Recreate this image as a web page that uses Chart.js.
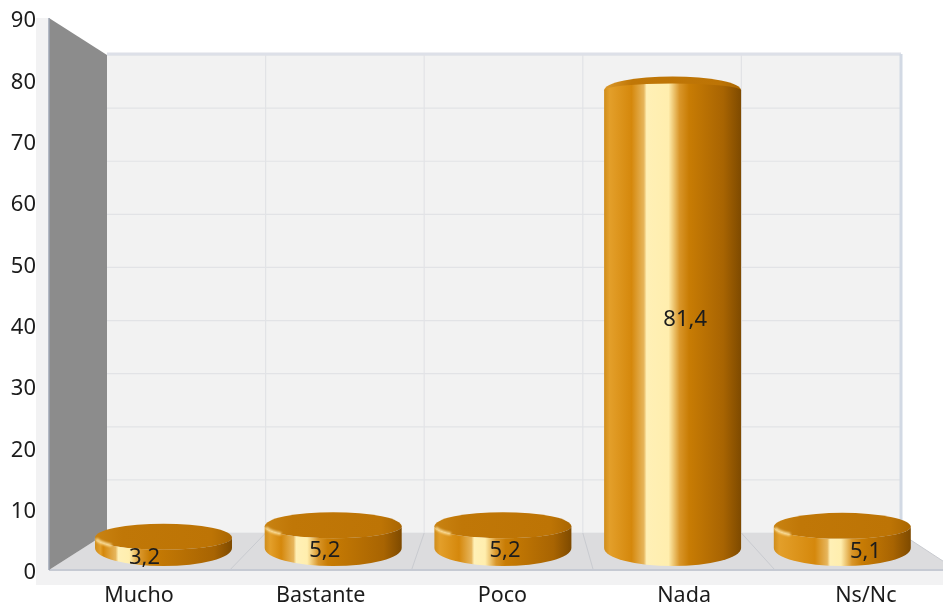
<!DOCTYPE html>
<html>
<head>
<meta charset="utf-8">
<script src="https://cdn.jsdelivr.net/npm/chart.js@4/dist/chart.umd.min.js"></script>
<style>
  html, body { margin: 0; background: #fff; }
  canvas { display: block; }
</style>
</head>
<body>
<canvas id="chart" width="943" height="610"></canvas>
<script>
const categories = ['Mucho', 'Bastante', 'Poco', 'Nada', 'Ns/Nc'];
const values = [3.2, 5.2, 5.2, 81.4, 5.1];
const valueLabels = ['3,2', '5,2', '5,2', '81,4', '5,1'];
const yTicks = [0, 10, 20, 30, 40, 50, 60, 70, 80, 90];

const FONT = '"Noto Sans", sans-serif';
const AREA = { left: 49, right: 943, top: 18, bottom: 570 };

// the fake 3d has three planes, each one gets its own hidden scale
function xRange(zero, step) {
  return { min: (AREA.left - zero) / step, max: (AREA.right - zero) / step };
}
function yRange(zero, step) {
  return { min: (zero - AREA.bottom) / step, max: (zero - AREA.top) / step };
}
function hiddenX(zero, step) {
  return { type: 'linear', axis: 'x', display: false, offset: false, ...xRange(zero, step) };
}
function hiddenY(zero, step) {
  return { type: 'linear', axis: 'y', display: false, ...yRange(zero, step) };
}

const wallsPlugin = {
  id: 'walls',
  beforeDatasetsDraw(chart) {
    const ctx = chart.ctx;
    const s = chart.scales;
    const backL = s.xBack.getPixelForValue(0);
    const backR = s.xBack.getPixelForValue(categories.length);
    const backT = s.yBack.getPixelForValue(90);
    const backB = s.yBack.getPixelForValue(0);
    const frontL = AREA.left;
    const frontT = s.y.getPixelForValue(90);
    const frontB = s.y.getPixelForValue(0);

    ctx.save();
    // light strip behind the axis and under the floor
    ctx.fillStyle = '#f2f2f3';
    ctx.fillRect(36, frontT, frontL - 36, frontB - frontT + 15);
    ctx.fillRect(frontL, frontB, 943 - frontL, 15);

    // back wall
    ctx.fillStyle = '#f2f2f2';
    ctx.fillRect(backL, backT, backR - backL, backB - backT);
    ctx.strokeStyle = '#e2e3e6';
    ctx.lineWidth = 1.2;
    yTicks.forEach(v => {
      const py = s.yBack.getPixelForValue(v);
      ctx.beginPath();
      ctx.moveTo(backL, py);
      ctx.lineTo(backR, py);
      ctx.stroke();
    });
    for (let k = 1; k < categories.length; k++) {
      const px = s.xBack.getPixelForValue(k);
      ctx.beginPath();
      ctx.moveTo(px, backT);
      ctx.lineTo(px, backB);
      ctx.stroke();
    }
    ctx.strokeStyle = '#dde0e8';
    ctx.lineWidth = 3;
    ctx.beginPath();
    ctx.moveTo(backL, backT - 1);
    ctx.lineTo(backR + 1, backT - 1);
    ctx.stroke();
    ctx.strokeStyle = '#d2d9e4';
    ctx.beginPath();
    ctx.moveTo(backR + 1, backT - 1);
    ctx.lineTo(backR + 1, backB);
    ctx.stroke();

    // floor, front edge runs past the canvas on the right
    const frontR = s.x.getPixelForValue(categories.length - 0.5);
    ctx.fillStyle = '#dcdcde';
    ctx.beginPath();
    ctx.moveTo(backL, backB);
    ctx.lineTo(backR, backB);
    ctx.lineTo(frontR, frontB);
    ctx.lineTo(frontL, frontB);
    ctx.closePath();
    ctx.fill();
    ctx.strokeStyle = '#c9cbd0';
    ctx.lineWidth = 1;
    for (let k = 1; k <= categories.length; k++) {
      ctx.beginPath();
      ctx.moveTo(s.xBack.getPixelForValue(k), backB);
      ctx.lineTo(s.x.getPixelForValue(k - 0.5), frontB);
      ctx.stroke();
    }
    ctx.strokeStyle = '#c6cad3';
    ctx.lineWidth = 2;
    ctx.beginPath();
    ctx.moveTo(frontL, frontB);
    ctx.lineTo(943, frontB);
    ctx.stroke();

    // left wall
    ctx.fillStyle = '#8c8c8c';
    ctx.beginPath();
    ctx.moveTo(frontL, frontT);
    ctx.lineTo(backL, backT);
    ctx.lineTo(backL, backB);
    ctx.lineTo(frontL, frontB);
    ctx.closePath();
    ctx.fill();
    ctx.strokeStyle = '#9ea6b4';
    ctx.lineWidth = 1.5;
    ctx.beginPath();
    ctx.moveTo(frontL, frontT);
    ctx.lineTo(frontL, frontB);
    ctx.stroke();
    ctx.restore();
  }
};

function drawCylinder(ctx, el, value) {
  const w = el.width;
  const l = el.x - w / 2;
  const r = el.x + w / 2;
  const tall = value > 20;
  const topRy = 14;
  const frontRy = tall ? -7 : 12;
  const baseRy = 18;
  const baseY = el.base - 8;
  // the shine slides right across the chart, it is wider on the tall bar
  const shine = 0.21 + (el.x - 163) / 679 * 0.24;
  const half = tall ? 0.09 : 0.05;

  const side = ctx.createLinearGradient(l, 0, r, 0);
  side.addColorStop(0, '#cf8d1c');
  side.addColorStop(0.04, '#e39f2a');
  side.addColorStop(Math.max(0.06, shine - half - 0.1), '#d5880c');
  side.addColorStop(shine - half - 0.01, '#e6b55c');
  side.addColorStop(shine - half + 0.01, '#fff0b6');
  side.addColorStop(shine + half - 0.01, '#ffeeae');
  side.addColorStop(shine + half + 0.07, '#d9962a');
  side.addColorStop(Math.min(0.7, shine + half + 0.14), '#c87c04');
  side.addColorStop(0.87, '#a86402');
  side.addColorStop(1, '#7e4a00');

  const face = ctx.createLinearGradient(l, 0, r, 0);
  face.addColorStop(0, tall ? '#dc9a2c' : '#c98312');
  face.addColorStop(0.2, '#c07707');
  face.addColorStop(0.85, '#bd7405');
  face.addColorStop(1, '#a96602');

  ctx.save();
  ctx.fillStyle = face;
  ctx.beginPath();
  ctx.ellipse(el.x, el.y, w / 2, topRy, 0, Math.PI, 2 * Math.PI);
  ctx.ellipse(el.x, el.y, w / 2, Math.max(frontRy, 1), 0, 0, Math.PI);
  ctx.closePath();
  ctx.fill();

  ctx.fillStyle = side;
  ctx.beginPath();
  ctx.moveTo(l, el.y);
  ctx.lineTo(l, baseY);
  ctx.ellipse(el.x, baseY, w / 2, baseRy, 0, Math.PI, 0, true);
  ctx.lineTo(r, el.y);
  ctx.ellipse(el.x, el.y, w / 2, Math.abs(frontRy), 0, 0, Math.PI, frontRy < 0);
  ctx.closePath();
  ctx.fill();

  // soft catch light on the left of the rim, short bars only
  if (!tall) {
    ctx.filter = 'blur(1.2px)';
    ctx.strokeStyle = 'rgba(255, 232, 170, 0.9)';
    ctx.lineWidth = 3;
    ctx.beginPath();
    ctx.ellipse(el.x, el.y, w / 2 - 1, frontRy, 0, Math.PI * 0.97, Math.PI * 0.78, true);
    ctx.stroke();
  }
  ctx.restore();
}

const cylinderPlugin = {
  id: 'cylinders',
  beforeDatasetDraw(chart, args) {
    const ctx = chart.ctx;
    args.meta.data.forEach((el, i) => drawCylinder(ctx, el, values[i]));
    return false;
  },
  afterDatasetsDraw(chart) {
    const ctx = chart.ctx;
    ctx.save();
    ctx.font = '22px ' + FONT;
    ctx.fillStyle = '#1c1c1c';
    ctx.textAlign = 'center';
    ctx.textBaseline = 'middle';
    valueLabels.forEach((txt, i) => {
      const px = chart.scales.x.getPixelForValue(i * 0.992 + 0.03);
      const py = chart.scales.y.getPixelForValue(values[i] * 0.495) - 3;
      ctx.fillText(txt, px, py);
    });
    ctx.restore();
  }
};

new Chart(document.getElementById('chart'), {
  type: 'bar',
  data: {
    datasets: [{
      data: values.map((v, i) => ({ x: i, y: v })),
      xAxisID: 'xBar',
      yAxisID: 'yBar',
      barThickness: 137,
      backgroundColor: '#c87c04'
    }]
  },
  options: {
    responsive: false,
    animation: false,
    layout: { padding: { top: AREA.top, right: 0, left: 0, bottom: 0 } },
    plugins: { legend: { display: false }, tooltip: { enabled: false } },
    scales: {
      x: {
        type: 'linear',
        position: 'bottom',
        offset: false,
        ...xRange(139, 181.7),
        afterFit(scale) {
          scale.height = 40;
          scale.paddingLeft = 0;
          scale.paddingRight = 0;
        },
        grid: { display: false },
        border: { display: false },
        ticks: {
          stepSize: 1,
          includeBounds: false,
          autoSkip: false,
          maxRotation: 0,
          padding: 5,
          color: '#1c1c1c',
          font: { family: FONT, size: 21.5 },
          callback: v => categories[v]
        }
      },
      y: {
        position: 'left',
        min: 0,
        max: 90,
        afterFit(scale) {
          scale.width = AREA.left;
          scale.paddingTop = 0;
          scale.paddingBottom = 0;
        },
        grid: { display: false },
        border: { display: false },
        ticks: {
          stepSize: 10,
          padding: 5,
          labelOffset: 3,
          color: '#1c1c1c',
          font: { family: FONT, size: 22 }
        }
      },
      xBar: hiddenX(163.5, 169.7),
      yBar: hiddenY(556, 5.72),
      xBack: hiddenX(107, 158.6),
      yBack: hiddenY(533, 5.311)
    }
  },
  plugins: [wallsPlugin, cylinderPlugin]
});
</script>
</body>
</html>
